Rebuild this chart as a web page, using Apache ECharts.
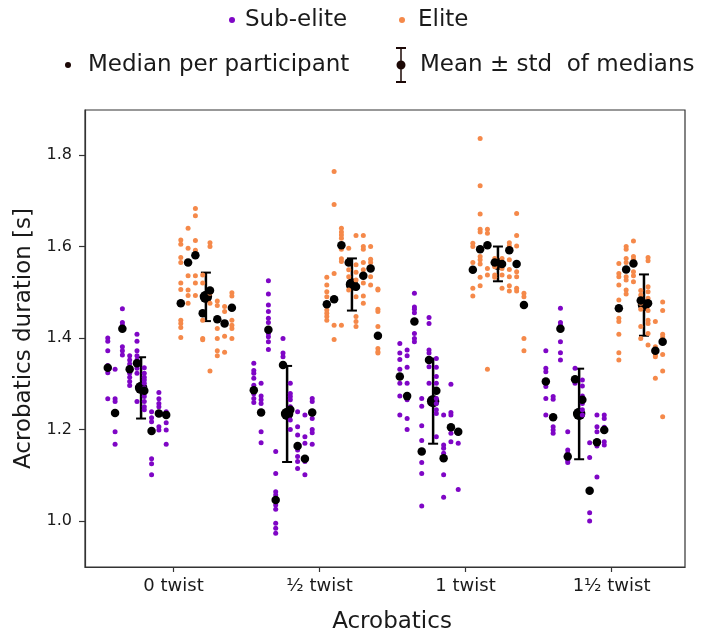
<!DOCTYPE html>
<html><head><meta charset="utf-8">
<script src="https://cdn.jsdelivr.net/npm/echarts@6/dist/echarts.min.js"></script>
<style>html,body{margin:0;padding:0;background:#fff}#chart{width:701px;height:641px}</style>
</head><body><div id="chart"></div>
<script>
// ---------- data ----------
const categories = ['0 twist', '½ twist', '1 twist', '1½ twist'];
const yTicks = [1.0, 1.2, 1.4, 1.6, 1.8];

// Sub-elite trials per participant (one inner array per participant)
const subElite0 = [
  [1.400,1.393,1.372,1.340,1.332,1.324,1.267],
  [1.332,1.267,1.261,1.236,1.195,1.168],
  [1.464,1.434,1.428,1.420,1.381,1.372,1.363],
  [1.361,1.352,1.343,1.330,1.323,1.314,1.305,1.296],
  [1.408,1.393,1.372,1.361,1.352,1.334,1.323,1.261],
  [1.335,1.323,1.314,1.308,1.301,1.290,1.279,1.272,1.261,1.250,1.243],
  [1.239,1.226,1.217,1.197,1.136,1.125,1.101],
  [1.281,1.267,1.257,1.250,1.235,1.206,1.199],
  [1.239,1.232,1.215,1.199,1.168]
];
const subElite05 = [
  [1.345,1.329,1.323,1.312,1.297,1.286,1.278,1.268,1.259],
  [1.301,1.273,1.265,1.257,1.237,1.195,1.171],
  [1.525,1.496,1.472,1.458,1.443,1.434,1.418,1.410,1.403,1.392,1.375],
  [1.152,1.104,1.064,1.057,1.046,1.035,1.026,0.995,0.984,0.973],
  [1.399,1.367,1.359,1.341],
  [1.301,1.279,1.272,1.265,1.250,1.243,1.221,1.200],
  [1.239,1.206,1.188,1.164,1.155,1.141,1.130,1.115],
  [1.232,1.184,1.170,1.136,1.130,1.101],
  [1.268,1.261,1.237,1.224,1.200,1.193,1.168]
];
const subElite1 = [
  [1.388,1.367,1.353,1.332,1.316,1.301,1.273,1.232],
  [1.374,1.361,1.336,1.301,1.273,1.265,1.224,1.200],
  [1.498,1.468,1.463,1.455,1.436,1.410,1.399,1.392],
  [1.268,1.251,1.208,1.176,1.152,1.128,1.104,1.033],
  [1.445,1.432,1.374,1.367,1.352,1.337,1.301],
  [1.355,1.336,1.316,1.301,1.285,1.268,1.257,1.243,1.235,1.184],
  [1.232,1.166,1.159,1.148,1.137,1.101,1.052],
  [1.299,1.237,1.232,1.205,1.192,1.173],
  [1.195,1.170,1.069]
];
const subElite15 = [
  [1.372,1.334,1.326,1.305,1.294,1.268,1.232],
  [1.272,1.266,1.227,1.206,1.199,1.192],
  [1.465,1.434,1.428,1.420,1.392,1.368,1.352],
  [1.195,1.155,1.148,1.141,1.133,1.128],
  [1.334,1.310,1.301],
  [1.308,1.295,1.273,1.265,1.257,1.243,1.232],
  [1.171,1.139,1.066,1.018,1.000],
  [1.232,1.206,1.195,1.172,1.164,1.096],
  [1.232,1.224,1.205,1.199,1.173,1.166]
];

// Elite trials per participant
const elite0 = [
  [1.614,1.605,1.576,1.565,1.520,1.506,1.476,1.439,1.432,1.423,1.401],
  [1.640,1.596,1.565,1.536,1.505,1.493,1.476],
  [1.683,1.667,1.613,1.592,1.581,1.536,1.520,1.493],
  [1.538,1.520,1.454,1.439,1.399,1.396],
  [1.608,1.600,1.504,1.498,1.476,1.328],
  [1.481,1.471,1.441,1.421,1.399,1.372,1.361],
  [1.469,1.458,1.432,1.404,1.369],
  [1.499,1.492,1.466,1.439,1.428,1.421,1.399]
];
const elite05 = [
  [1.533,1.516,1.501,1.490,1.474,1.461,1.454,1.447,1.439],
  [1.764,1.692,1.541,1.485,1.428,1.397],
  [1.640,1.632,1.625,1.618,1.603,1.594,1.573,1.567,1.428],
  [1.596,1.565,1.549,1.534,1.505],
  [1.624,1.560,1.544,1.527,1.512,1.509,1.490,1.447,1.436,1.425],
  [1.624,1.600,1.594,1.565,1.549,1.536,1.520,1.492,1.476],
  [1.600,1.572,1.565,1.552,1.534,1.516],
  [1.507,1.505,1.463,1.458,1.425,1.405,1.377,1.370,1.367]
];
const elite1 = [
  [1.607,1.600,1.565,1.549,1.509,1.492],
  [1.836,1.733,1.671,1.638,1.632,1.594,1.578,1.571,1.562,1.533,1.514],
  [1.638,1.629,1.603,1.552,1.538,1.332],
  [1.574,1.565,1.556,1.538,1.533],
  [1.574,1.562,1.552,1.538,1.509],
  [1.608,1.601,1.592,1.571,1.550,1.534,1.514,1.503],
  [1.672,1.624,1.601,1.562,1.545,1.534,1.509,1.503],
  [1.498,1.490,1.472,1.399,1.372]
];
const elite15 = [
  [1.563,1.541,1.534,1.516,1.483,1.465,1.461,1.443,1.436,1.408,1.368,1.352],
  [1.600,1.594,1.574,1.565,1.550,1.534,1.527,1.505,1.496],
  [1.612,1.578,1.572,1.563,1.545,1.536,1.523],
  [1.504,1.494,1.487,1.482,1.476,1.463,1.425,1.399],
  [1.576,1.569,1.512,1.501,1.487,1.476,1.460,1.439,1.432,1.410,1.385],
  [1.436,1.381,1.375,1.372,1.363,1.359,1.312],
  [1.479,1.460,1.408,1.402,1.392,1.364,1.328,1.228]
];

// Median per participant
const subMedian0  = [1.335,1.236,1.420,1.332,1.345,1.285,1.197,1.235,1.232];
const subMedian05 = [1.286,1.237,1.418,1.046,1.341,1.243,1.164,1.136,1.237];
const subMedian1  = [1.316,1.273,1.436,1.152,1.352,1.285,1.137,1.205,1.195];
const subMedian15 = [1.305,1.227,1.420,1.141,1.310,1.265,1.066,1.172,1.199];
const eliteMedian0  = [1.476,1.565,1.581,1.454,1.504,1.441,1.432,1.466];
const eliteMedian05 = [1.474,1.485,1.603,1.565,1.512,1.536,1.552,1.405];
const eliteMedian1  = [1.549,1.594,1.603,1.565,1.562,1.592,1.562,1.472];
const eliteMedian15 = [1.465,1.550,1.563,1.482,1.476,1.372,1.392];

// Mean ± std of medians, per acrobatics
const subMean  = [1.291, 1.234, 1.262, 1.234];
const subStd   = [0.067, 0.105, 0.093, 0.099];
const eliteMean = [1.490, 1.517, 1.562, 1.472];
const eliteStd  = [0.053, 0.057, 0.038, 0.067];

// ---------- build ----------
const subTrials = [subElite0, subElite05, subElite1, subElite15];
const eliteTrials = [elite0, elite05, elite1, elite15];
const subMedians = [subMedian0, subMedian05, subMedian1, subMedian15];
const eliteMedians = [eliteMedian0, eliteMedian05, eliteMedian1, eliteMedian15];

const subOffset = i => -0.45 + 0.05 * i;
const eliteOffset = i => 0.05 + 0.05 * i;
const MEAN_OFF = 0.222;

const subPts = [], elitePts = [], medPts = [], meanPts = [];
categories.forEach((c, k) => {
  subTrials[k].forEach((p, i) => p.forEach(v => subPts.push([k + subOffset(i), v])));
  eliteTrials[k].forEach((p, i) => p.forEach(v => elitePts.push([k + eliteOffset(i), v])));
  subMedians[k].forEach((v, i) => medPts.push([k + subOffset(i), v]));
  eliteMedians[k].forEach((v, i) => medPts.push([k + eliteOffset(i), v]));
  meanPts.push([k - MEAN_OFF, subMean[k], subStd[k]]);
  meanPts.push([k + MEAN_OFF, eliteMean[k], eliteStd[k]]);
});

const FONT = 'DejaVu Sans';
const PURPLE = '#7f06c6';
const ORANGE = '#f5894a';
const TXT = '#1a1a1a';
const ERR_ICON = 'path://M0,0H10V2H0Z M4.25,0H5.75V36H4.25Z M0,34H10V36H0Z M0.5,18A4.5,4.5 0 1 1 9.5,18A4.5,4.5 0 1 1 0.5,18Z';

const legendText = pad => ({fontFamily: FONT, fontSize: 23, color: TXT, lineHeight: 26, padding: [0, 0, 0, pad]});

const chart = echarts.init(document.getElementById('chart'), null, {renderer: 'canvas'});
chart.setOption({
  animation: false,
  backgroundColor: '#fff',
  grid: {left: 85, right: 16, top: 110, bottom: 74, show: true, borderColor: '#333', borderWidth: 1.2, backgroundColor: 'transparent', containLabel: false, outerBoundsMode: 'none'},
  legend: [
    {data: [{name: 'Sub-elite', icon: 'circle'}], left: 229, top: 7, padding: 0, itemWidth: 6, itemHeight: 6, selectedMode: false, textStyle: legendText(5)},
    {data: [{name: 'Elite', icon: 'circle'}], left: 399, top: 7, padding: 0, itemWidth: 6, itemHeight: 6, selectedMode: false, textStyle: legendText(8)},
    {data: [{name: 'Median per participant', icon: 'circle', itemStyle: {color: '#1c0806', opacity: 1}}], left: 65, top: 52, padding: 0, itemWidth: 6, itemHeight: 6, selectedMode: false, textStyle: legendText(12)},
    {data: [{name: 'Mean ± std  of medians', icon: ERR_ICON, itemStyle: {color: '#1c0806', opacity: 1}}], left: 396, top: 47, padding: 0, itemWidth: 10, itemHeight: 36, selectedMode: false, textStyle: legendText(9)}
  ],
  xAxis: {
    type: 'value', min: -0.606, max: 3.503,
    name: 'Acrobatics', nameLocation: 'middle', nameGap: 44,
    nameTextStyle: {fontFamily: FONT, fontSize: 23, color: TXT, padding: [0, 0, 0, 14]},
    axisLine: {show: true, onZero: false, lineStyle: {color: '#333', width: 1.2}},
    axisTick: {show: true, length: 5, lineStyle: {color: '#333', width: 1.2}, customValues: categories.map((c, i) => i)},
    axisLabel: {show: true, margin: 10, fontFamily: FONT, fontSize: 18, color: TXT, customValues: categories.map((c, i) => i), formatter: v => categories[Math.round(v)]},
    splitLine: {show: false}
  },
  yAxis: {
    type: 'value', min: 0.8995, max: 1.8984,
    name: 'Acrobatics duration [s]', nameLocation: 'middle', nameGap: 43, nameRotate: 90,
    nameTextStyle: {fontFamily: FONT, fontSize: 23, color: TXT},
    axisLine: {show: true, onZero: false, lineStyle: {color: '#333', width: 1.2}},
    axisTick: {show: true, length: 6, lineStyle: {color: '#333', width: 1.2}, customValues: yTicks},
    axisLabel: {show: true, margin: 13, fontFamily: FONT, fontSize: 16, color: TXT, customValues: yTicks, formatter: v => v.toFixed(1)},
    splitLine: {show: false}
  },
  series: [
    {name: 'Sub-elite', type: 'scatter', data: subPts, symbol: 'circle', symbolSize: 5, itemStyle: {color: PURPLE, opacity: 1}, silent: true},
    {name: 'Elite', type: 'scatter', data: elitePts, symbol: 'circle', symbolSize: 5, itemStyle: {color: ORANGE, opacity: 1}, silent: true},
    {name: 'Median per participant', type: 'scatter', data: medPts, symbol: 'circle', symbolSize: 8.5, itemStyle: {color: '#000', opacity: 1}, silent: true},
    {
      name: 'Mean ± std  of medians', type: 'custom', data: meanPts, silent: true,
      itemStyle: {color: '#000', opacity: 1},
      encode: {x: 0, y: 1},
      renderItem: (params, api) => {
        const x = api.value(0), m = api.value(1), s = api.value(2);
        const t = api.coord([x, m + s]);
        const b = api.coord([x, m - s]);
        const c = api.coord([x, m]);
        const hw = 5;
        return {type: 'group', children: [
          {type: 'line', shape: {x1: t[0], y1: t[1], x2: b[0], y2: b[1]}, style: {stroke: '#000', lineWidth: 2.5}},
          {type: 'line', shape: {x1: t[0] - hw, y1: t[1], x2: t[0] + hw, y2: t[1]}, style: {stroke: '#000', lineWidth: 2}},
          {type: 'line', shape: {x1: b[0] - hw, y1: b[1], x2: b[0] + hw, y2: b[1]}, style: {stroke: '#000', lineWidth: 2}},
          {type: 'circle', shape: {cx: c[0], cy: c[1], r: 6.2}, style: {fill: '#000'}}
        ]};
      }
    }
  ]
});
</script></body></html>
